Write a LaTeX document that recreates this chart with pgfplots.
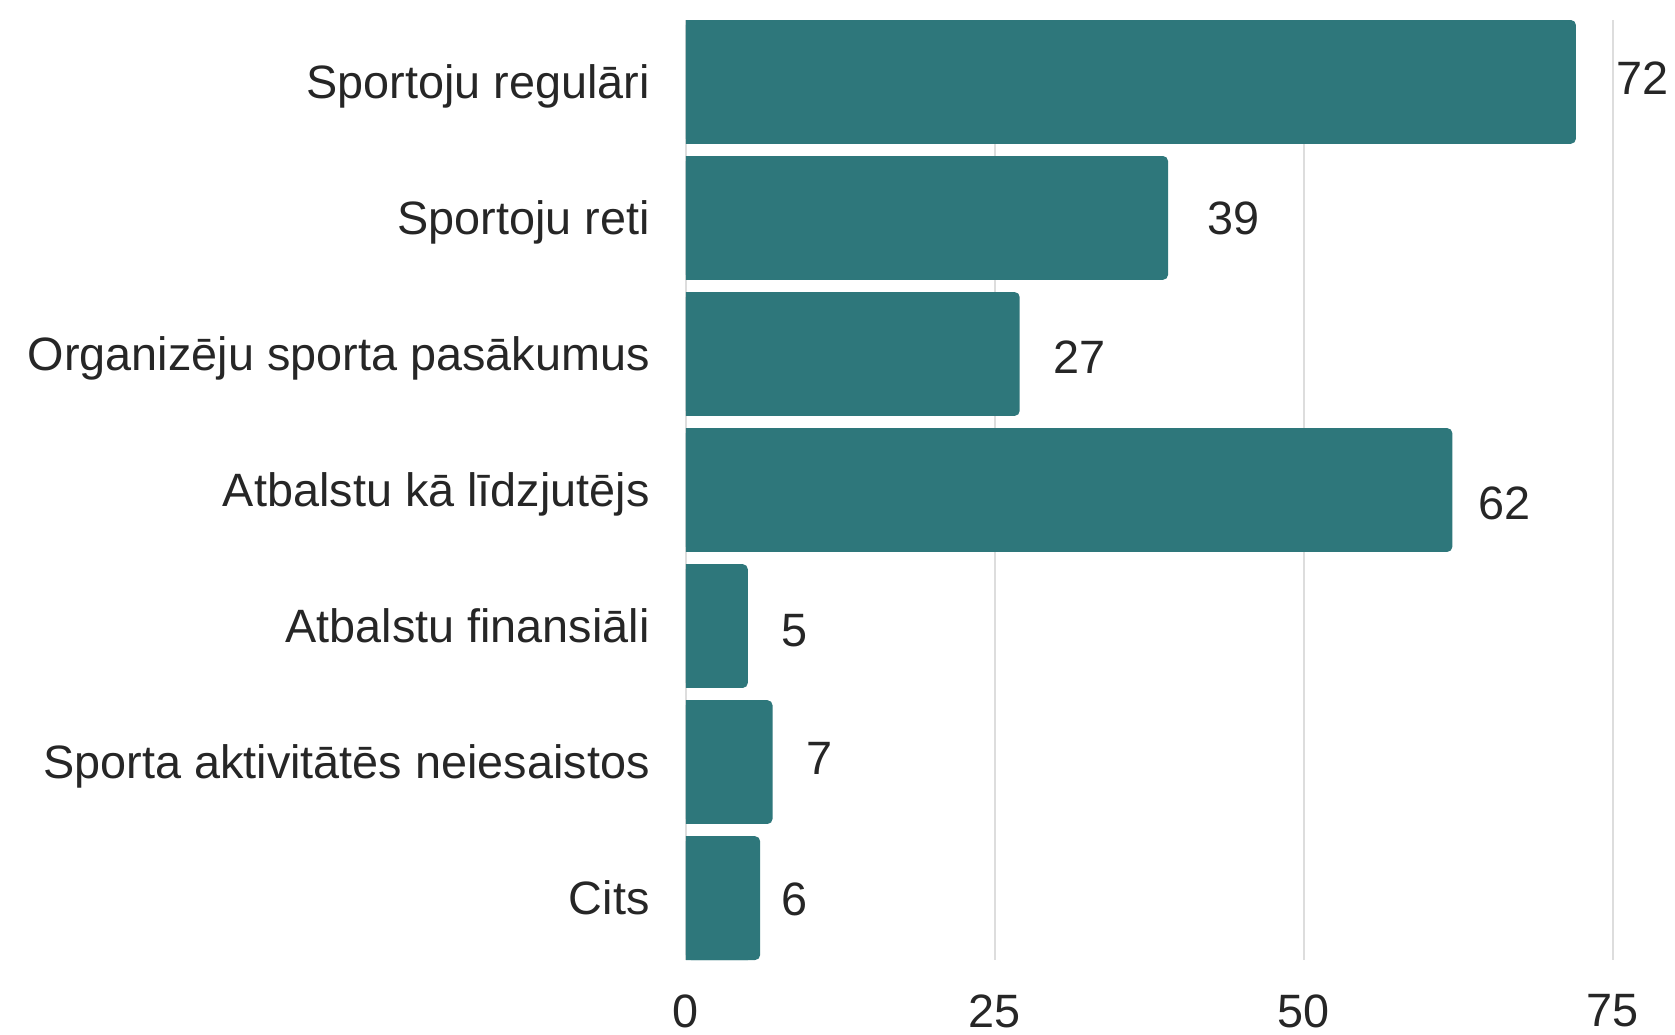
\documentclass[border=0pt]{standalone}
\usepackage{pgfplots}
\pgfplotsset{compat=1.18}
\usepackage{pgfplotstable}
\usepackage{fontspec}
\setmainfont{Liberation Sans}
\definecolor{barteal}{HTML}{2E777B}
\definecolor{txt}{HTML}{262626}
\definecolor{gridc}{HTML}{DDDDDD}

\pgfplotstableread{
y v
0 72
1 39
2 27
3 62
4 5
5 7
6 6
}\bardata

\pgfplotstableread{
x y lab
77.4 -0.03 72
44.3 1.0 39
31.8 2.02 27
66.2 3.1 62
8.8 4.03 5
10.8 4.97 7
8.8 6.01 6
}\labdata

\begin{document}
\begin{tikzpicture}
\useasboundingbox (-343pt,-37pt) rectangle (494.5pt,480pt);
\begin{axis}[
  scale only axis,
  width=463.5pt, height=470pt,
  xmin=0, xmax=75,
  ymin=-0.455, ymax=6.455,
  y dir=reverse,
  xtick={0,25,50,75},
  ytick={0,1,2,3,4,5,6},
  yticklabels={Sportoju regulāri,Sportoju reti,Organizēju sporta pasākumus,Atbalstu kā līdzjutējs,Atbalstu finansiāli,Sporta aktivitātēs neiesaistos,Cits},
  xmajorgrids,
  grid style={draw=gridc, line width=0.75pt},
  axis line style={draw=none},
  major tick length=0pt,
  tick style={draw=none},
  /pgf/number format/assume math mode=true,
  font=\fontsize{23.4}{28}\selectfont,
  tick label style={text=txt},
  xticklabel style={anchor=north, inner sep=0pt, yshift=-17pt},
  yticklabel style={anchor=base east, inner sep=0pt, xshift=-18pt, yshift=-8.3pt},
  clip=false,
]
\addplot[xbar, bar shift=0pt, bar width=0.91, fill=barteal, draw=none, rounded corners=2.5pt] table[x=v, y=y] {\bardata};
\addplot[xbar, bar shift=0pt, bar width=0.91, fill=barteal, draw=none] table[x expr=\thisrow{v}-1, y=y] {\bardata};
\addplot[draw=none, mark=none, nodes near coords, point meta=explicit symbolic,
  every node near coord/.style={anchor=center, inner sep=0pt, text=txt, font=\fontsize{23.4}{28}\selectfont}]
  table[x=x, y=y, meta=lab] {\labdata};
\end{axis}
\end{tikzpicture}
\end{document}
